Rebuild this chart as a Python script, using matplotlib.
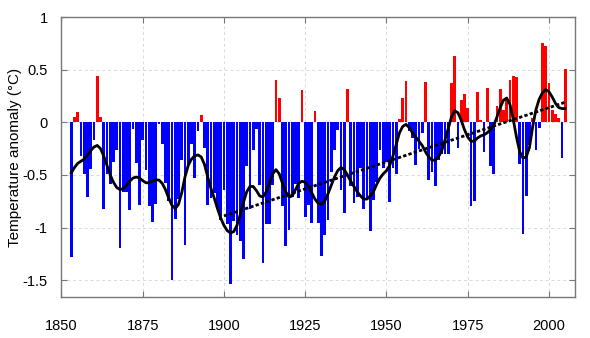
import numpy as np
import matplotlib
matplotlib.use("Agg")
import matplotlib.pyplot as plt

plt.rcParams['font.family'] = ['Liberation Sans', 'DejaVu Sans']

# annual anomalies, 1853-2005
years = list(range(1853, 2006))
anomaly = [
    -1.28, 0.05, 0.10, -0.32, -0.49, -0.71, -0.44, -0.17, 0.44, 0.05,   # 1853-1862
    -0.82, -0.49, -0.59, -0.38, -0.26, -1.19, -0.66, -0.66, -0.83, -0.06,  # 1863-1872
    -0.39, -0.79, -0.17, -0.45, -0.80, -0.95, -0.78, -0.02, -0.21, -0.58,  # 1873-1882
    -0.75, -1.50, -0.92, -0.73, -0.36, -1.17, -0.41, -0.21, -0.53, -0.08,  # 1883-1892
    0.07, -0.24, -0.79, -0.72, -0.67, -0.81, -0.93, -0.64, -0.97, -1.54,   # 1893-1902
    -0.94, -1.07, -1.13, -1.30, -0.42, -0.82, -0.26, -0.06, -0.60, -1.34,  # 1903-1912
    -0.97, -0.97, -0.60, 0.40, 0.23, -0.80, -1.18, -1.02, -0.71, -0.59,    # 1913-1922
    -0.72, 0.31, -0.90, -0.79, -0.96, 0.11, -0.96, -1.27, -1.07, -0.93,    # 1923-1932
    -0.47, -0.26, -0.07, -0.64, -0.86, 0.32, -0.61, -0.77, -0.71, -0.43,   # 1933-1942
    -0.82, -0.73, -1.03, -0.74, -0.57, -0.26, -0.43, -0.38, -0.76, -0.43,  # 1943-1952
    -0.49, 0.03, 0.23, 0.39, -0.08, -0.15, -0.41, -0.25, -0.10, 0.38,      # 1953-1962
    -0.55, -0.47, -0.61, -0.36, -0.30, -0.30, -0.30, 0.37, 0.63, -0.24,    # 1963-1972
    0.21, 0.27, 0.14, -0.80, -0.75, 0.29, 0.02, -0.28, 0.33, -0.42,        # 1973-1982
    -0.49, 0.15, 0.32, 0.12, 0.23, 0.40, 0.44, 0.43, -0.40, -1.06,         # 1983-1992
    -0.70, -0.22, 0.04, -0.26, -0.05, 0.75, 0.72, 0.37, 0.12, 0.08,        # 1993-2002
    0.04, -0.34, 0.51,                                                     # 2003-2005
]

# smoothed curve
smooth_years = list(range(1853, 2006))
smooth_vals = [
    -0.48, -0.43, -0.39, -0.37, -0.35, -0.31, -0.27, -0.235, -0.22, -0.25,
    -0.32, -0.41, -0.50, -0.57, -0.62, -0.64, -0.63, -0.60, -0.56, -0.53,
    -0.52, -0.53, -0.555, -0.575, -0.575, -0.56, -0.545, -0.55, -0.58, -0.64,
    -0.72, -0.79, -0.82, -0.78, -0.67, -0.52, -0.41, -0.35, -0.32, -0.31,
    -0.33, -0.40, -0.52, -0.63, -0.72, -0.82, -0.91, -0.98, -1.03, -1.05,
    -1.04, -0.98, -0.88, -0.76, -0.66, -0.61, -0.61, -0.65, -0.70, -0.71,
    -0.66, -0.58, -0.49, -0.45, -0.49, -0.58, -0.66, -0.71, -0.70, -0.64,
    -0.58, -0.56, -0.57, -0.61, -0.67, -0.73, -0.77, -0.78, -0.75, -0.68,
    -0.60, -0.52, -0.46, -0.43, -0.45, -0.50, -0.56, -0.61, -0.66, -0.70,
    -0.73, -0.73, -0.70, -0.66, -0.59, -0.53, -0.49, -0.46, -0.41, -0.32,
    -0.21, -0.10, -0.04, -0.02, -0.05, -0.10, -0.14, -0.18, -0.22, -0.28,
    -0.33, -0.36, -0.36, -0.33, -0.27, -0.17, -0.06, 0.05, 0.11, 0.09,
    0.02, -0.07, -0.14, -0.18, -0.18, -0.15, -0.13, -0.12, -0.10, -0.07,
    -0.03, 0.05, 0.14, 0.21, 0.23, 0.17, 0.03, -0.14, -0.28, -0.34,
    -0.33, -0.24, -0.04, 0.12, 0.22, 0.28, 0.31, 0.29, 0.24, 0.18,
    0.14, 0.13, 0.13,
]

# linear trend 1900-2005
trend_years = [1900, 2005]
trend_vals = [-0.89, 0.19]

colors = ['red' if v > 0 else 'blue' for v in anomaly]

fig = plt.figure(figsize=(5.9, 3.38), dpi=100)
ax = fig.add_axes([0.1042, 0.1213, 0.8703, 0.8284])

ax.bar(years, anomaly, width=0.85, color=colors, linewidth=0, zorder=2)
ax.plot(smooth_years, smooth_vals, color='black', linewidth=2, zorder=3)
ax.plot(trend_years, trend_vals, color='black', linewidth=2,
        linestyle=(0, (1.2, 0.8)), zorder=3)

ax.set_xlim(1850, 2008)
ax.set_ylim(-1.66, 1)
ax.set_xticks([1850, 1875, 1900, 1925, 1950, 1975, 2000])
ax.set_yticks([-1.5, -1, -0.5, 0, 0.5, 1])
ax.set_yticklabels(['-1.5', '-1', '-0.5', '0', '0.5', '1'])
ax.grid(True, color='#d9d9d9', linestyle=(0, (3, 3)), linewidth=0.7, zorder=0)
ax.set_axisbelow(True)

for s in ax.spines.values():
    s.set_color('#777777')
    s.set_linewidth(1)
ax.tick_params(direction='in', length=4, color='#777777', labelsize=10.5,
               top=True, right=True)
ax.tick_params(axis='x', pad=16)
ax.tick_params(axis='y', pad=10)
ax.set_ylabel('Temperature anomaly (°C)', fontsize=11, labelpad=0)

fig.savefig('out.png', dpi=100)
